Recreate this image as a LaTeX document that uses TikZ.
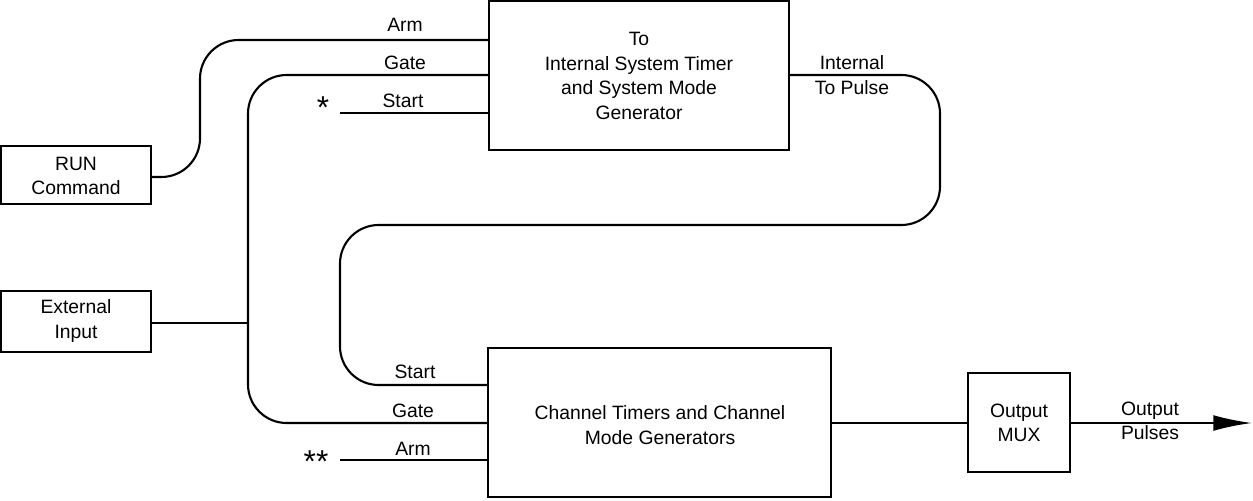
\documentclass[tikz,border=0pt]{standalone}
\usepackage{fontspec}
\setmainfont{Liberation Sans}
\usetikzlibrary{arrows.meta}
\begin{document}
\begin{tikzpicture}[x=0.02cm,y=-0.02cm,
  box/.style={draw,line width=1.2pt,inner sep=0pt},
  wire/.style={line width=1.2pt,rounded corners=22},
  lbl/.style={font=\fontsize{11}{13}\selectfont,align=center,inner sep=0pt},
  every node/.style={font=\fontsize{11}{13}\selectfont}]
\useasboundingbox (0,0) rectangle (1253,500);
% boxes
\draw[box] (489,1) rectangle (789,150);
\node[lbl] (top) at (639,76) {To\\[1pt]Internal System Timer\\[1pt]and System Mode\\[1pt]Generator};
\draw[box] (1,146) rectangle (151,204);
\node[lbl] (run) at (76,176) {RUN\\[1pt]Command};
\draw[box] (1,291) rectangle (151,352);
\node[lbl] (ext) at (76,321) {External\\[1pt]Input};
\draw[box] (488,348) rectangle (831,497);
\node[lbl] (chan) at (660,425) {Channel Timers and Channel\\[1pt]Mode Generators};
\draw[box] (968,373) rectangle (1070,472);
\node[lbl] (mux) at (1019,423) {Output\\[1pt]MUX};
\coordinate (j) at (248,323);
\coordinate (s1) at (340,113);
\coordinate (s2) at (340,460);
\coordinate (out) at (1252,423);
% wires
\draw[wire] (151,177) -- (200,177) -- (200,40) -- (489,40);
\draw[wire] (489,75) -- (248,75) -- (248,423) -- (488,423);
\draw[line width=1.2pt] (151,323) -- (j);
\draw[line width=1.2pt] (s1) -- (489,113);
\draw[wire] (789,75) -- (940,75) -- (940,225) -- (340,225) -- (340,385) -- (488,385);
\draw[line width=1.2pt] (s2) -- (488,460);
\draw[line width=1.2pt] (831,423) -- (968,423);
\draw[line width=1.2pt,-{Latex[length=22pt,width=9pt]}] (1070,423) -- (out);
% labels
\node[lbl] at (405,25) {Arm};
\node[lbl] at (405,63) {Gate};
\node[lbl] at (403,101) {Start};
\node[font=\fontsize{18}{18}\selectfont] at (323,108) {*};
\node[lbl] at (852,75) {Internal\\[1pt]To Pulse};
\node[lbl] at (415,372) {Start};
\node[lbl] at (413,411) {Gate};
\node[lbl] at (413,449) {Arm};
\node[font=\fontsize{18}{18}\selectfont] at (316,462) {**};
\node[lbl] at (1150,421) {Output\\[1pt]Pulses};
\end{tikzpicture}
\end{document}
